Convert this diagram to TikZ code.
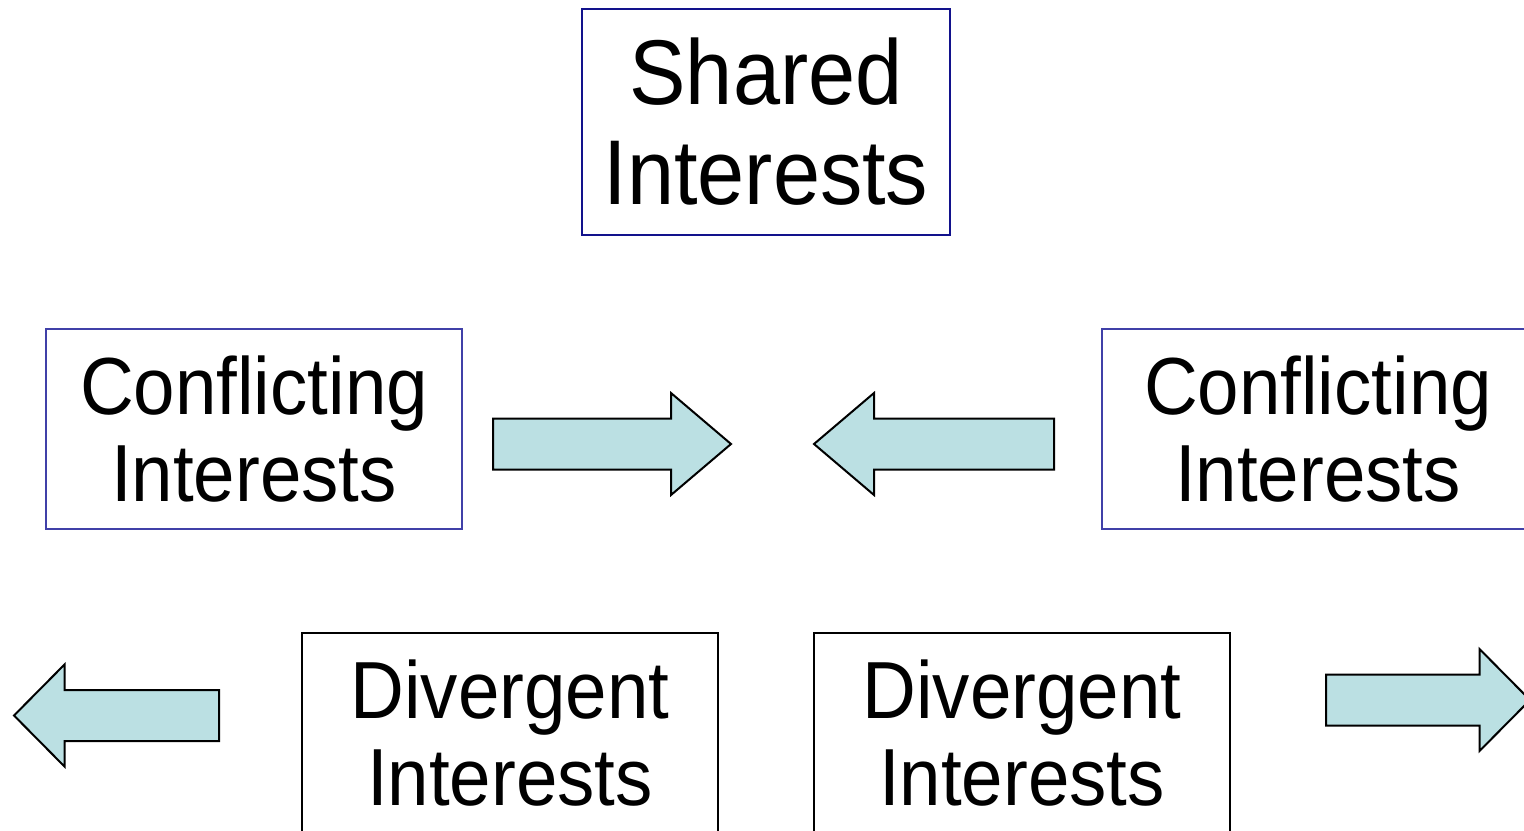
\documentclass[tikz,border=0pt]{standalone}
\usepackage{fontspec}
\setmainfont[FakeStretch=0.92]{Liberation Sans}
\usepackage{tikz}
\definecolor{arrowfill}{HTML}{BBE0E3}
\definecolor{sharedblue}{HTML}{12128C}
\definecolor{conflictblue}{HTML}{4040A8}

\begin{document}
\begin{tikzpicture}[x=0.5pt,y=-0.5pt,
    interestbox/.style={draw, line width=1pt, inner sep=0pt, align=center,
      minimum width=208pt, minimum height=100pt,
      font=\fontsize{40.5}{43.5}\selectfont},
    sharedbox/.style={interestbox, draw=sharedblue, minimum width=184pt,
      minimum height=113pt, font=\fontsize{46}{50}\selectfont}]
  \clip (0,0) rectangle (1524,830);

  % block arrow: tip x, tip y, head base x, tail x
  \newcommand{\blockarrow}[4]{%
    \begin{scope}[shift={(0,#2)}]
      \draw[fill=arrowfill, line width=1pt, line join=miter]
        (#4,-25.5) -- (#3,-25.5) -- (#3,-51) -- (#1,0) -- (#3,51)
        -- (#3,25.5) -- (#4,25.5) -- cycle;
    \end{scope}}

  \node[sharedbox] (shared) at (766,122) {Shared\\Interests};

  \node[interestbox, draw=conflictblue] (conflictL) at (254,429) {Conflicting\\Interests};
  \node[interestbox, draw=conflictblue, minimum width=216pt] (conflictR) at (1318,429) {Conflicting\\Interests};

  \node[interestbox] (divergeL) at (510,733) {Divergent\\Interests};
  \node[interestbox] (divergeR) at (1022,733) {Divergent\\Interests};

  \blockarrow{731}{444}{671}{493}
  \blockarrow{814}{444}{874}{1054}
  \blockarrow{14}{715.5}{64.5}{219}
  \blockarrow{1530}{700}{1479.5}{1326}
\end{tikzpicture}
\end{document}
